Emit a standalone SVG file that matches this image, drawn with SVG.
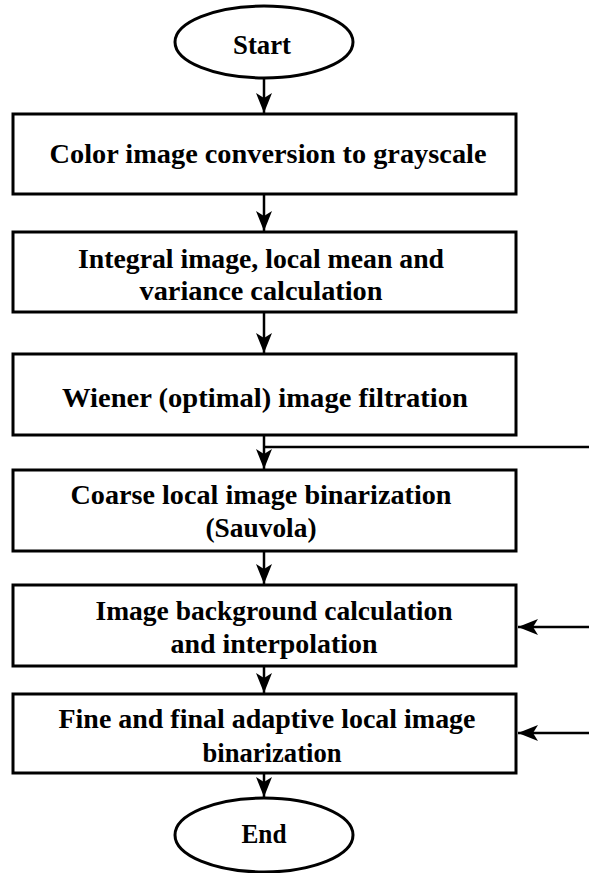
<svg xmlns="http://www.w3.org/2000/svg" width="589" height="873" viewBox="0 0 589 873">
<defs>
<style>
.box{fill:#fff;stroke:#000;stroke-width:3}
.term{fill:#fff;stroke:#000;stroke-width:3}
.t{font-family:"Liberation Serif","Times New Roman",serif;font-weight:bold;font-size:28px;fill:#000;text-anchor:middle}
.c{stroke:#000;stroke-width:2.5;fill:none}
</style>
<marker id="ah" viewBox="0 0 20 16" refX="20" refY="8" markerWidth="20" markerHeight="16" markerUnits="userSpaceOnUse" orient="auto">
<path d="M0,0 L20,8 L0,16 L5,8 Z" fill="#000"/>
</marker>
</defs>
<rect width="589" height="873" fill="#fff"/>
<g id="connectors">
<line class="c" x1="264" y1="78" x2="264" y2="113" marker-end="url(#ah)"/>
<line class="c" x1="264" y1="194" x2="264" y2="231" marker-end="url(#ah)"/>
<line class="c" x1="264" y1="312" x2="264" y2="353" marker-end="url(#ah)"/>
<line class="c" x1="264" y1="435" x2="264" y2="469" marker-end="url(#ah)"/>
<line class="c" x1="264" y1="447" x2="589" y2="447"/>
<line class="c" x1="264" y1="551" x2="264" y2="584" marker-end="url(#ah)"/>
<line class="c" x1="264" y1="666" x2="264" y2="693" marker-end="url(#ah)"/>
<line class="c" x1="264" y1="773" x2="264" y2="797" marker-end="url(#ah)"/>
<line class="c" x1="589" y1="627" x2="518" y2="627" marker-end="url(#ah)"/>
<line class="c" x1="589" y1="733" x2="518" y2="733" marker-end="url(#ah)"/>
</g>
<g id="start">
<ellipse class="term" cx="264" cy="42" rx="89" ry="36"/>
<text class="t" x="262" y="54" textLength="58" lengthAdjust="spacingAndGlyphs">Start</text>
</g>
<g id="n1">
<rect class="box" x="13" y="114" width="503" height="80"/>
<text class="t" x="268" y="163" textLength="437" lengthAdjust="spacingAndGlyphs">Color image conversion to grayscale</text>
</g>
<g id="n2">
<rect class="box" x="13" y="232" width="503" height="80"/>
<text class="t" x="261" y="268" textLength="366" lengthAdjust="spacingAndGlyphs">Integral image, local mean and</text>
<text class="t" x="261" y="300" textLength="243" lengthAdjust="spacingAndGlyphs">variance calculation</text>
</g>
<g id="n3">
<rect class="box" x="13" y="354" width="503" height="81"/>
<text class="t" x="265" y="407" textLength="406" lengthAdjust="spacingAndGlyphs">Wiener (optimal) image filtration</text>
</g>
<g id="n4">
<rect class="box" x="13" y="470" width="503" height="81"/>
<text class="t" x="261" y="504" textLength="381" lengthAdjust="spacingAndGlyphs">Coarse local image binarization</text>
<text class="t" x="261" y="537" textLength="111" lengthAdjust="spacingAndGlyphs">(Sauvola)</text>
</g>
<g id="n5">
<rect class="box" x="13" y="585" width="503" height="81"/>
<text class="t" x="274" y="620" textLength="357" lengthAdjust="spacingAndGlyphs">Image background calculation</text>
<text class="t" x="274" y="653" textLength="207" lengthAdjust="spacingAndGlyphs">and interpolation</text>
</g>
<g id="n6">
<rect class="box" x="13" y="694" width="503" height="79"/>
<text class="t" x="267" y="728" textLength="417" lengthAdjust="spacingAndGlyphs">Fine and final adaptive local image</text>
<text class="t" x="272" y="762" textLength="139" lengthAdjust="spacingAndGlyphs">binarization</text>
</g>
<g id="end">
<ellipse class="term" cx="264" cy="835" rx="89" ry="37"/>
<text class="t" x="264" y="843" textLength="45" lengthAdjust="spacingAndGlyphs">End</text>
</g>
</svg>
